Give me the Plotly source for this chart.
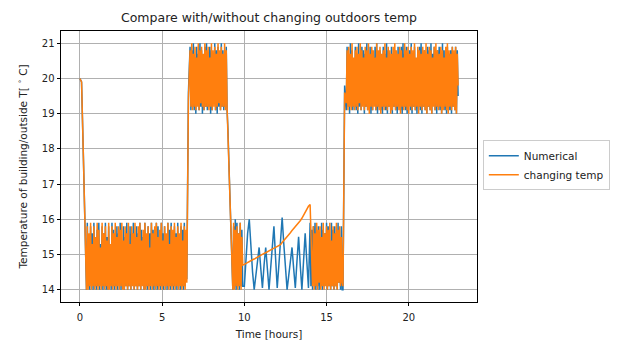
import plotly.graph_objects as go


def grid(t0, t1, step):
    n = int(round((t1 - t0) / step)) + 1
    return [round(t0 + i * step, 2) for i in range(n)]


# sampling times (hours)
time_hours = (grid(0.0, 0.3, 0.1) + grid(0.4, 6.45, 0.05) + [6.5, 6.6] +
              grid(6.7, 8.95, 0.05) + grid(9.0, 9.2, 0.1) +
              grid(9.3, 9.85, 0.05) + [9.9] + grid(10.0, 13.9, 0.1) +
              grid(14.0, 15.95, 0.05) + [16.0, 16.1] + grid(16.2, 23.0, 0.05))

# ---- Numerical (blue) ----
num_start = [20.0, 19.9, 18.0, 16.0]
num_low1 = [14.0, 15.9, 14.1, 15.4, 14.0, 15.8, 14.2, 15.6, 14.0, 15.9,
            14.1, 15.2, 14.0, 15.7, 14.1, 15.9, 14.0, 15.3, 14.2, 15.8,
            14.0, 15.6, 14.1, 15.9, 14.0, 15.5, 14.0, 15.8, 14.2, 15.1,
            14.0, 15.9, 14.1, 15.7, 14.0, 15.4, 14.1, 15.8, 14.0, 15.6,
            14.2, 15.9, 14.0, 15.3, 14.1, 15.8, 14.0, 15.5, 14.1, 15.9,
            14.0, 15.2, 14.1, 15.8, 14.0, 15.6, 14.2, 15.9, 14.0, 15.4,
            14.1, 15.8, 14.0, 15.6, 14.1, 15.9, 14.0, 15.7, 14.2, 15.5,
            14.0, 15.9, 14.1, 15.3, 14.0, 15.8, 14.1, 15.6, 14.0, 15.9,
            14.2, 15.7, 14.0, 15.4, 14.1, 15.9, 14.0, 15.8, 14.1, 15.2,
            14.0, 15.9, 14.1, 15.6, 14.0, 15.8, 14.2, 15.5, 14.0, 15.9,
            14.1, 15.7, 14.0, 15.9, 14.1, 15.3, 14.0, 15.8, 14.1, 15.6,
            14.0, 15.9, 14.2, 15.4, 14.0, 15.8, 14.1, 15.7, 14.0, 15.9,
            14.1, 15.5]
num_rise1 = [14.3, 19.6]
num_high1 = [20.9, 19.1, 20.8, 19.2, 21.0, 19.1, 20.6, 19.0, 20.9, 19.3,
             20.7, 19.1, 21.0, 19.2, 20.8, 19.0, 20.5, 19.1, 20.9, 19.2,
             21.0, 19.1, 20.7, 19.2, 20.9, 19.0, 20.8, 19.1, 20.6, 19.3,
             21.0, 19.1, 20.8, 19.0, 20.9, 19.2, 20.7, 19.1, 21.0, 19.2,
             20.8, 19.1, 20.6, 19.2, 20.9, 19.1]
num_fall = [18.6, 17.0, 15.6]
num_dense2 = [14.0, 15.8, 14.1, 16.0, 14.0, 15.9, 14.1, 15.6, 14.0, 15.9,
              14.1, 15.7, 14.1]
num_mid = [14.1, 15.0, 15.6, 16.0, 15.2, 14.5, 14.0, 14.4, 14.8, 15.2,
           14.6, 14.05, 14.7, 15.2, 14.6, 14.0, 14.6, 15.2, 15.8, 14.9,
           14.05, 14.7, 15.4, 16.05, 15.3, 14.6, 14.0, 14.4, 14.8, 15.2,
           14.6, 14.05, 14.8, 15.5, 14.7, 14.0, 14.8, 15.6, 14.8, 14.05]
num_low2 = [15.9, 14.1, 15.7, 14.0, 15.8, 14.2, 15.9, 14.0, 15.6, 14.1,
            15.8, 14.0, 15.5, 14.1, 15.9, 14.0, 15.7, 14.1, 15.6, 14.2,
            15.9, 14.0, 15.8, 14.1, 15.4, 14.0, 15.9, 14.1, 15.7, 14.0,
            15.8, 14.1, 15.6, 14.0, 15.9, 14.2, 15.5, 14.0, 15.8, 14.0]
num_rise2 = [14.0, 19.8]
num_high2 = [19.1, 20.9, 19.2, 20.6, 19.0, 21.0, 19.3, 20.8, 19.1, 20.5,
             19.2, 20.9, 19.1, 20.7, 19.0, 21.0, 19.2, 20.6, 19.1, 20.9,
             19.3, 20.8, 19.0, 20.7, 19.2, 21.0, 19.1, 20.5, 19.2, 20.9,
             19.0, 20.8, 19.1, 20.6, 19.3, 20.9, 19.1, 21.0, 19.0, 20.7,
             19.2, 20.8, 19.1, 20.6, 19.0, 20.9, 19.2, 20.7, 19.1, 21.0,
             19.0, 20.8, 19.2, 20.5, 19.1, 20.9, 19.0, 20.7, 19.2, 20.8,
             19.1, 20.6, 19.0, 20.9, 19.2, 20.7, 19.1, 20.9, 19.0, 21.0,
             19.2, 20.7, 19.1, 20.9, 19.0, 20.6, 19.3, 20.8, 19.1, 21.0,
             19.0, 20.7, 19.2, 20.9, 19.1, 20.5, 19.0, 20.8, 19.2, 20.9,
             19.1, 21.0, 19.0, 20.7, 19.2, 20.8, 19.1, 20.6, 19.0, 20.9,
             19.2, 20.8, 19.1, 21.0, 19.0, 20.7, 19.3, 20.9, 19.1, 20.6,
             19.0, 20.8, 19.2, 20.9, 19.1, 20.7, 19.0, 21.0, 19.2, 20.8,
             19.1, 20.6, 19.0, 20.9, 19.2, 20.7, 19.1, 20.8, 19.0, 20.9,
             19.2, 20.7, 19.1, 20.9, 19.0, 20.8, 19.5]

# ---- changing temp (orange) ----
chg_start = [20.0, 19.9, 18.0, 16.0]
chg_low1 = [14.0, 15.8, 14.0, 15.6, 14.1, 15.9, 14.0, 15.3, 14.1, 15.8,
            14.0, 15.5, 14.1, 15.9, 14.0, 15.7, 14.1, 15.2, 14.0, 15.9,
            14.1, 15.6, 14.0, 15.8, 14.1, 15.4, 14.0, 15.9, 14.0, 15.3,
            14.1, 15.8, 14.0, 15.6, 14.1, 15.9, 14.0, 15.5, 14.1, 15.8,
            14.0, 15.7, 14.1, 15.9, 14.0, 15.4, 14.0, 15.8, 14.1, 15.6,
            14.0, 15.9, 14.1, 15.3, 14.0, 15.8, 14.1, 15.6, 14.0, 15.9,
            14.1, 15.5, 14.0, 15.8, 14.1, 15.9, 14.0, 15.4, 14.1, 15.7,
            14.0, 15.9, 14.0, 15.6, 14.1, 15.8, 14.0, 15.2, 14.1, 15.9,
            14.0, 15.6, 14.1, 15.8, 14.0, 15.9, 14.1, 15.5, 14.0, 15.7,
            14.1, 15.9, 14.0, 15.4, 14.1, 15.8, 14.0, 15.6, 14.1, 15.9,
            14.0, 15.3, 14.1, 15.8, 14.0, 15.7, 14.1, 15.9, 14.0, 15.5,
            14.1, 15.8, 14.0, 15.6, 14.1, 15.9, 14.0, 15.4, 14.1, 15.8,
            14.0, 15.7]
chg_rise1 = [14.2, 19.4]
chg_high1 = [20.8, 19.2, 21.0, 19.1, 20.7, 19.2, 20.9, 19.1, 20.6, 19.2,
             21.0, 19.1, 20.8, 19.3, 20.9, 19.2, 20.7, 19.1, 21.0, 19.2,
             20.8, 19.2, 20.9, 19.1, 20.6, 19.2, 21.0, 19.1, 20.8, 19.2,
             20.9, 19.1, 20.7, 19.2, 21.0, 19.3, 20.8, 19.1, 20.9, 19.2,
             20.7, 19.2, 21.0, 19.1, 20.8, 19.2]
chg_fall = [18.5, 17.0, 15.5]
chg_dense2 = [14.0, 15.9, 14.0, 15.7, 14.1, 15.8, 14.0, 15.6, 14.1, 15.9,
              14.0, 15.5, 14.7]
chg_mid = [14.72, 14.75, 14.77, 14.80, 14.82, 14.85, 14.87, 14.90, 14.92, 14.95,
           14.98, 15.00, 15.03, 15.05, 15.08, 15.10, 15.13, 15.15, 15.18, 15.20,
           15.23, 15.25, 15.28, 15.34, 15.39, 15.45, 15.51, 15.56, 15.62, 15.68,
           15.73, 15.79, 15.85, 15.90, 15.96, 16.03, 16.12, 16.20, 16.29, 16.37]
chg_low2 = [16.42, 15.7, 15.0, 14.1, 15.8, 14.0, 15.6, 14.1, 15.9, 14.0,
            15.7, 14.2, 15.8, 14.0, 15.5, 14.1, 15.9, 14.0, 15.6, 14.1,
            15.8, 14.0, 15.7, 14.1, 15.9, 14.0, 15.4, 14.1, 15.8, 14.0,
            15.6, 14.1, 15.9, 14.0, 15.7, 14.2, 15.8, 14.1, 15.5, 14.2]
chg_rise2 = [14.1, 19.6]
chg_high2 = [19.3, 20.8, 19.1, 20.9, 19.2, 20.7, 19.1, 21.0, 19.2, 20.6,
             19.1, 20.8, 19.2, 20.9, 19.1, 20.7, 19.3, 21.0, 19.1, 20.8,
             19.2, 20.6, 19.1, 20.9, 19.2, 20.8, 19.1, 21.0, 19.0, 20.7,
             19.2, 20.9, 19.1, 20.8, 19.2, 20.6, 19.1, 21.0, 19.2, 20.8,
             19.1, 20.9, 19.0, 20.7, 19.2, 20.8, 19.1, 21.0, 19.2, 20.6,
             19.1, 20.9, 19.2, 20.8, 19.0, 20.7, 19.1, 20.9, 19.2, 21.0,
             19.1, 20.8, 19.2, 20.7, 19.1, 20.9, 19.0, 20.8, 19.2, 20.6,
             19.1, 21.0, 19.2, 20.8, 19.1, 20.9, 19.0, 20.7, 19.2, 20.9,
             19.1, 20.8, 19.2, 21.0, 19.1, 20.6, 19.2, 20.9, 19.0, 20.8,
             19.2, 20.7, 19.1, 20.9, 19.2, 20.8, 19.1, 21.0, 19.0, 20.7,
             19.2, 20.9, 19.1, 20.8, 19.0, 20.6, 19.2, 20.9, 19.1, 21.0,
             19.2, 20.8, 19.1, 20.7, 19.2, 20.9, 19.0, 20.8, 19.1, 20.6,
             19.2, 20.9, 19.1, 21.0, 19.0, 20.8, 19.2, 20.7, 19.1, 20.9,
             19.2, 20.8, 19.1, 20.9, 19.0, 20.7, 19.8]

numerical = (num_start + num_low1 + num_rise1 + num_high1 + num_fall +
             num_dense2 + num_mid + num_low2 + num_rise2 + num_high2)
changing = (chg_start + chg_low1 + chg_rise1 + chg_high1 + chg_fall +
            chg_dense2 + chg_mid + chg_low2 + chg_rise2 + chg_high2)

n = min(len(time_hours), len(numerical), len(changing))

x_ticks = [0, 5, 10, 15, 20]
y_ticks = [14, 15, 16, 17, 18, 19, 20, 21]

fig = go.Figure()
fig.add_trace(go.Scatter(x=time_hours[:n], y=numerical[:n], mode="lines",
                         name="Numerical",
                         line=dict(color="#1f77b4", width=1.5)))
fig.add_trace(go.Scatter(x=time_hours[:n], y=changing[:n], mode="lines",
                         name="changing temp",
                         line=dict(color="#ff7f0e", width=1.5)))

axis_common = dict(showgrid=True, gridcolor="#b0b0b0", gridwidth=0.8,
                   ticks="outside", ticklen=3.5, tickcolor="black",
                   showline=True, linecolor="black", linewidth=0.8,
                   mirror=True, zeroline=False, automargin=False,
                   tickfont=dict(family="DejaVu Sans", size=10, color="#222"))

fig.update_layout(
    width=622, height=342,
    margin=dict(l=61, r=145, t=31, b=40),
    plot_bgcolor="white", paper_bgcolor="white",
    font=dict(family="DejaVu Sans", size=10, color="#222"),
    title=dict(text="Compare with/without changing outdoors temp",
               x=(61 + 477) / 2 / 622, xanchor="center",
               y=1 - 18 / 342, yanchor="middle",
               font=dict(family="DejaVu Sans", size=12.5, color="#222")),
    legend=dict(x=1.014, y=0.505, xanchor="left", yanchor="middle",
                bordercolor="#cccccc", borderwidth=1, bgcolor="white",
                itemwidth=30,
                font=dict(family="DejaVu Sans", size=10.5, color="#222"),
                tracegroupgap=2),
    showlegend=True,
)
fig.update_xaxes(range=[-1.15, 24.15], tickvals=x_ticks,
                 ticklabelstandoff=3,
                 title=dict(text="Time [hours]", standoff=8,
                            font=dict(family="DejaVu Sans", size=10.5)),
                 **axis_common)
fig.update_yaxes(range=[13.65, 21.35], tickvals=y_ticks,
                 title=dict(text="Temperature of building/outside T[ <sup>∘</sup> C]",
                            standoff=12,
                            font=dict(family="DejaVu Sans", size=10.5)),
                 **axis_common)

fig.write_html("out.html")
